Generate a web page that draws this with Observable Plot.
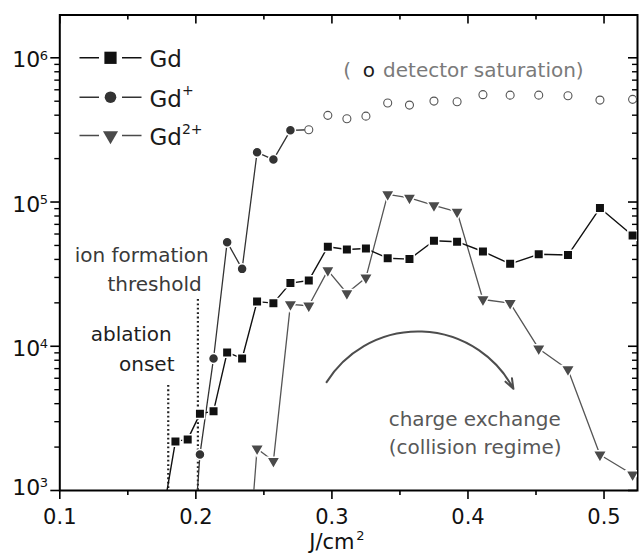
<!DOCTYPE html>
<html><head><meta charset="utf-8">
<script src="https://cdn.jsdelivr.net/npm/d3@7"></script>
<script src="https://cdn.jsdelivr.net/npm/@observablehq/plot@0.6"></script>
<style>body{margin:0;background:#fff}</style>
</head><body><div id="chart"></div>
<script>
// ---- data (J/cm^2 vs ion signal) ----
const fluence = [0.176,0.185,0.194,0.203,0.213,0.223,0.234,0.245,0.257,0.2695,0.283,0.297,0.311,0.325,0.341,0.357,0.375,0.392,0.411,0.431,0.452,0.4735,0.497,0.521,0.545];
const gdCounts = [700,2190,2260,3400,3550,9060,8230,20400,19900,27400,28600,49000,46900,47600,40800,40200,53900,53100,45400,37300,43400,42900,90800,58600,98000];
const gdPlusCounts = [null,null,110,1780,8230,52700,34400,221000,197000,314000,null,null,null,null,null,null,null,null,null,null,null,null,null,null,null];
const gdPlusSaturated = [null,null,null,null,null,null,null,null,null,null,317000,399000,378000,394000,486000,470000,501000,496000,555000,551000,551000,546000,509000,515000,null];
const gd2PlusCounts = [null,null,null,null,null,null,90,1950,1600,19500,19100,33600,23300,29900,113000,107000,94700,85600,21100,19900,9620,6910,1770,1290,null];

const xTicks = [0.1,0.2,0.3,0.4,0.5];
const xTickLabels = ["0.1","0.2","0.3","0.4","0.5"];
const xMinor = [0.15,0.25,0.35,0.45];
const yTicks = [1e3,1e4,1e5,1e6];
const yTickExp = ["3","4","5","6"];
const yMinor = [2e3,3e3,4e3,5e3,6e3,7e3,8e3,9e3,2e4,3e4,4e4,5e4,6e4,7e4,8e4,9e4,2e5,3e5,4e5,5e5,6e5,7e5,8e5,9e5];

const legendNames = ["Gd","Gd","Gd"];
const legendSup = ["","+","2+"];

// ---- layout ----
const W = 639, H = 555, ML = 59.3, MR = 2, MT = 14.5, MB = 65;
const PW = W - ML - MR, PH = H - MT - MB;
const FONT = "DejaVu Sans";

const rows = (vals) => fluence.map((x, i) => ({x, y: vals[i]})).filter(d => d.y != null);
const gdRows = rows(gdCounts);
const plusRows = rows(gdPlusCounts);
const satRows = rows(gdPlusSaturated);
const plusLine = plusRows.concat(satRows.slice(0, 1));
const dblRows = rows(gd2PlusCounts);

const triDown = {draw(ctx, size) {
  const y = -Math.sqrt(size / (3 * Math.sqrt(3)));
  ctx.moveTo(0, -2 * y);
  ctx.lineTo(-Math.sqrt(3) * y, y);
  ctx.lineTo(Math.sqrt(3) * y, y);
  ctx.closePath();
}};
const legendLine = {draw(ctx) {
  ctx.moveTo(-31, 0); ctx.lineTo(-11.5, 0);
  ctx.moveTo(11.5, 0); ctx.lineTo(31, 0);
}};

const colGd = "#111", colPlus = "#333", colDbl = "#4a4a4a";
const legendColors = [colGd, colPlus, colDbl];
const legendSymbols = ["square", "circle", triDown];
const legendR = [6.9, 5.8, 5.6];
const legendRowDy = [42.8, 82.2, 120.5];
const yLabelDy = [4, 9.5, 9.5, 9.5];

const marks = [
  Plot.frame({stroke: "#000", strokeWidth: 2}),
  // bottom ticks (outward)
  Plot.ruleX(xTicks, {x: d => d, insetTop: PH, insetBottom: -9, strokeWidth: 1.6}),
  Plot.ruleX(xMinor, {x: d => d, insetTop: PH, insetBottom: -5, strokeWidth: 1.6}),
  // top ticks (inward)
  Plot.ruleX(xTicks, {x: d => d, insetBottom: PH - 9, strokeWidth: 1.6}),
  Plot.ruleX(xMinor, {x: d => d, insetBottom: PH - 5, strokeWidth: 1.6}),
  // left ticks (outward)
  Plot.ruleY(yTicks, {y: d => d, insetLeft: -9, insetRight: PW, strokeWidth: 1.6}),
  Plot.ruleY(yMinor, {y: d => d, insetLeft: -5, insetRight: PW, strokeWidth: 1.4}),
  // right ticks (inward)
  Plot.ruleY(yTicks, {y: d => d, insetLeft: PW - 9, strokeWidth: 1.6}),
  Plot.ruleY(yMinor, {y: d => d, insetLeft: PW - 5, strokeWidth: 1.4}),
  // tick labels
  Plot.text(xTicks, {x: d => d, text: (d, i) => xTickLabels[i], frameAnchor: "bottom", dy: 33, lineAnchor: "bottom", fontSize: 21, fontFamily: FONT, fill: "#111"}),
  // axis title
  Plot.text([{x: 0.2833, t: "J/cm"}], {x: "x", text: "t", frameAnchor: "bottom", dy: 58.5, textAnchor: "start", lineAnchor: "bottom", fontSize: 21, fontFamily: FONT, fill: "#111"}),
  Plot.text([{x: 0.3178, t: "2"}], {x: "x", text: "t", frameAnchor: "bottom", dy: 49.5, textAnchor: "start", lineAnchor: "bottom", fontSize: 13, fontFamily: FONT, fill: "#111"}),
  // threshold dotted lines
  Plot.ruleX([{x: 0.1797, y1: 5350, y2: 1000}, {x: 0.2015, y1: 21100, y2: 1000}], {x: "x", y1: "y1", y2: "y2", stroke: "#222", strokeWidth: 2.2, strokeDasharray: "1.8,2.6"}),
  // curved arrow
  Plot.arrow([{x1: 0.2961, y1: 5640, x2: 0.4334, y2: 5070}], {x1: "x1", y1: "y1", x2: "x2", y2: "y2", bend: 60, headLength: 8, headAngle: 40, stroke: "#4d4d4d", strokeWidth: 2}),
  // series lines
  Plot.line(dblRows, {x: "x", y: "y", stroke: "#555", strokeWidth: 1.3, clip: true}),
  Plot.line(plusLine, {x: "x", y: "y", stroke: colPlus, strokeWidth: 1.3, clip: true}),
  Plot.line(gdRows, {x: "x", y: "y", stroke: colGd, strokeWidth: 1.4, clip: true}),
  // markers
  Plot.dot(satRows, {x: "x", y: "y", r: 4, fill: "white", stroke: "#555", strokeWidth: 1.1, clip: true}),
  Plot.dot(dblRows, {x: "x", y: "y", symbol: triDown, r: 5.0, fill: colDbl, stroke: "white", strokeWidth: 1.5, clip: true}),
  Plot.dot(plusRows, {x: "x", y: "y", symbol: "circle", r: 5.0, fill: colPlus, stroke: "white", strokeWidth: 1.5, clip: true}),
  Plot.dot(gdRows, {x: "x", y: "y", symbol: "square", r: 5.36, fill: colGd, stroke: "white", strokeWidth: 1.5, clip: true}),
  // annotations
  Plot.text([{x: 0.2095, y: 38300, t: "ion formation"}, {x: 0.2043, y: 24350, t: "threshold"}], {x: "x", y: "y", text: "t", textAnchor: "end", lineAnchor: "bottom", fontSize: 20, fontFamily: FONT, fill: "#3a3a3a"}),
  Plot.text([{x: 0.1823, y: 10960, t: "ablation"}, {x: 0.1843, y: 6790, t: "onset"}], {x: "x", y: "y", text: "t", textAnchor: "end", lineAnchor: "bottom", fontSize: 20, fontFamily: FONT, fill: "#1e1e1e"}),
  Plot.text([{x: 0.3083, y: 741000, t: "("}, {x: 0.3376, y: 741000, t: "detector saturation)"}], {x: "x", y: "y", text: "t", textAnchor: "start", lineAnchor: "bottom", fontSize: 20, fontFamily: FONT, fill: "#7a7a7a"}),
  Plot.text([{x: 0.3226, y: 741000, t: "o"}], {x: "x", y: "y", text: "t", textAnchor: "start", lineAnchor: "bottom", fontSize: 20, fontFamily: FONT, fill: "#1a1a1a"}),
  Plot.text([{x: 0.3417, y: 2822, t: "charge exchange"}, {x: 0.3417, y: 1797, t: "(collision regime)"}], {x: "x", y: "y", text: "t", textAnchor: "start", lineAnchor: "bottom", fontSize: 20, fontFamily: FONT, fill: "#585858"})
];

// y tick labels (10 with superscript exponent)
yTicks.forEach((t, i) => {
  marks.push(Plot.text([t], {y: d => d, text: () => "10", frameAnchor: "left", dx: -19.5, dy: yLabelDy[i], textAnchor: "end", lineAnchor: "bottom", fontSize: 22, fontFamily: FONT, fill: "#111"}));
  marks.push(Plot.text([t], {y: d => d, text: () => yTickExp[i], frameAnchor: "left", dx: -20, dy: yLabelDy[i] - 7.5, textAnchor: "start", lineAnchor: "bottom", fontSize: 13, fontFamily: FONT, fill: "#111"}));
});

// legend
legendNames.forEach((name, i) => {
  marks.push(Plot.dot([0], {frameAnchor: "top-left", dx: 50.7, dy: legendRowDy[i], symbol: legendLine, r: 5, fill: "none", stroke: legendColors[i], strokeWidth: 1.5}));
  marks.push(Plot.dot([0], {frameAnchor: "top-left", dx: 50.7, dy: legendRowDy[i], symbol: legendSymbols[i], r: legendR[i], fill: legendColors[i], stroke: "none"}));
  marks.push(Plot.text([name], {frameAnchor: "top-left", dx: 89.7, dy: legendRowDy[i] + 9.4, text: d => d, textAnchor: "start", lineAnchor: "bottom", fontSize: 23, fontFamily: FONT, fill: "#1a1a1a"}));
  if (legendSup[i]) marks.push(Plot.text([legendSup[i]], {frameAnchor: "top-left", dx: 122.1, dy: legendRowDy[i] - 2, text: d => d, textAnchor: "start", lineAnchor: "bottom", fontSize: 14, fontFamily: FONT, fill: "#1a1a1a"}));
});

const chart = Plot.plot({
  width: W, height: H,
  marginLeft: ML, marginRight: MR, marginTop: MT, marginBottom: MB,
  x: {domain: [0.1, 0.5246], axis: null},
  y: {type: "log", domain: [1000, 1.98e6], axis: null},
  style: {fontFamily: FONT, background: "white", overflow: "visible"},
  marks
});
document.getElementById("chart").appendChild(chart);
</script>
</body></html>
